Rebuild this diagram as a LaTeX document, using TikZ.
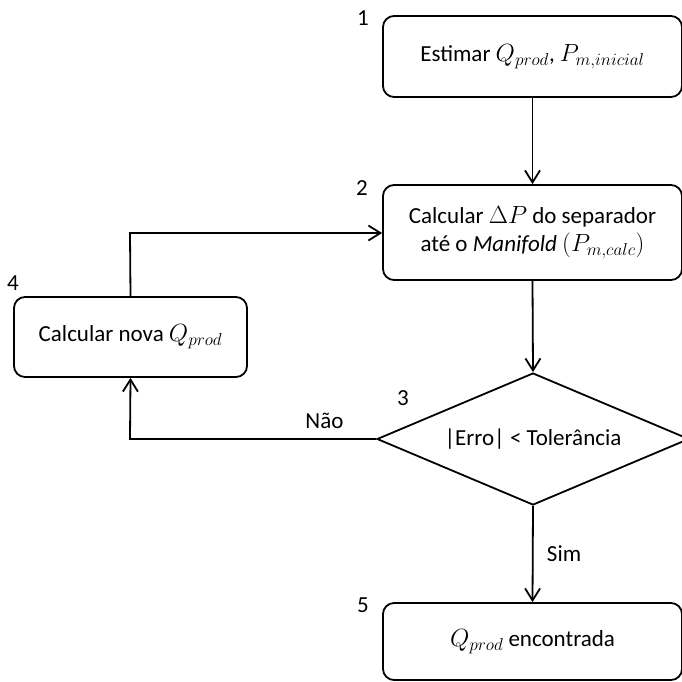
\documentclass[tikz,border=0pt]{standalone}
\usepackage{fontspec}
\setmainfont{Carlito}
\DeclareMathSizes{23}{23}{18}{14}
\usetikzlibrary{arrows.meta,shapes.geometric}
\begin{document}
\begin{tikzpicture}[x=1pt,y=-1pt,
  font=\fontsize{23}{28}\selectfont,
  box/.style={draw, rounded corners=11pt, inner sep=0pt, align=center, line width=1.8pt},
  decision/.style={draw, diamond, inner sep=0pt, minimum width=312pt, minimum height=132pt, line width=1.8pt},
  arr/.style={-{Straight Barb[length=12pt,width=15pt,line width=1.8pt]}, line width=1.8pt},
  num/.style={inner sep=0pt}
]
\useasboundingbox (0,0) rectangle (682,681);
\node[box, minimum width=299pt, minimum height=81pt] (b1) at (532.5,56.5) {Estimar $Q_{prod}$, $P_{m,inicial}$};
\node[box, minimum width=299pt, minimum height=95pt] (b2) at (532.5,232.5) {Calcular $\Delta P$ do separador\\at\'e o \textit{Manifold} $(P_{m,calc})$};
\node[decision] (d3) at (533,439) {\makebox[0pt]{|Erro| < Toler\^ancia}};
\node[box, minimum width=233pt, minimum height=80pt] (b4) at (130.5,337) {Calcular nova $Q_{prod}$};
\node[box, minimum width=299pt, minimum height=77pt] (b5) at (532.5,641.5) {$Q_{prod}$ encontrada};
\node[num] (n1) at (363,18) {1};
\node[num] (n2) at (362,188) {2};
\node[num] (n3) at (403,398) {3};
\node[num] (n4) at (13,283) {4};
\node[num] (n5) at (363,605) {5};
\coordinate (c1) at (130,439);
\coordinate (c2) at (130,233);
\draw[arr] (b1.south) -- (b2.north);
\draw[arr] (b2.south) -- (d3.north);
\draw[arr] (d3.south) -- node[right=10pt, pos=0.5] (sim) {Sim} (b5.north);
\draw[arr] (d3.west) -- node[above=6pt, pos=0.21] (nao) {Não} (c1) -- (b4.south);
\draw[arr] (b4.north) -- (c2) -- (c2 -| b2.west);
\end{tikzpicture}
\end{document}
